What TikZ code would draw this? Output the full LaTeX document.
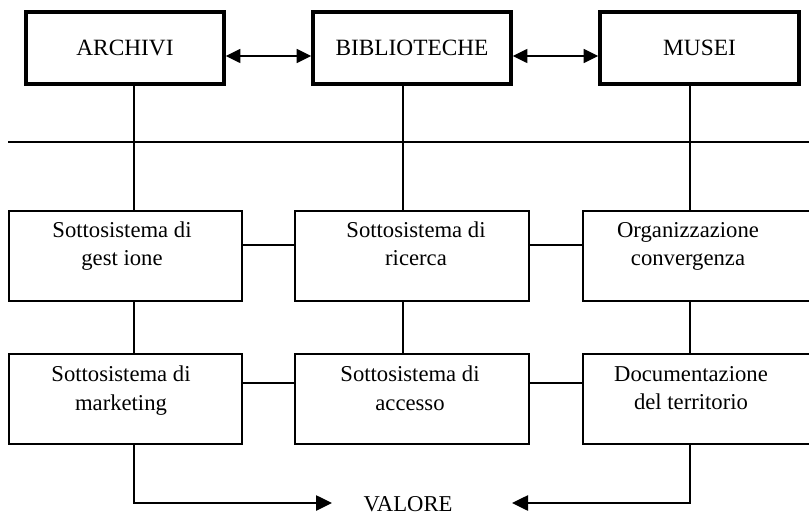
\documentclass[tikz,border=0pt]{standalone}
\usepackage{fontspec}
\setmainfont{Liberation Serif}
\usetikzlibrary{arrows.meta}

\begin{document}
\begin{tikzpicture}[x=0.75pt,y=0.75pt,yscale=-1,xscale=1,
    topbox/.style={draw,line width=2.6pt,minimum width=148.5pt,minimum height=54pt,inner sep=0pt,font=\fontsize{17.5}{21}\selectfont},
    subbox/.style={draw,line width=1.8pt,minimum height=67.5pt,inner sep=0pt},
    subtext/.style={anchor=north,align=center,inner sep=0pt,font=\fontsize{17}{21}\selectfont},
    link/.style={line width=1.1pt},
    dblarrow/.style={line width=1.1pt,{Triangle[length=11pt,width=10.5pt]}-{Triangle[length=11pt,width=10.5pt]}},
    valarrow/.style={line width=1.1pt,-{Triangle[length=12pt,width=11.5pt]}}]
    %set diagram left start at 0, and has height of 517
    \useasboundingbox (0,0) rectangle (809,517);

    %Shape: Rectangle [top row]
    \node[topbox] (archivi) at (125,48) {ARCHIVI};
    \node[topbox] (biblioteche) at (412,48) {BIBLIOTECHE};
    \node[topbox,minimum width=149.25pt] (musei) at (699.5,48) {MUSEI};

    %Shape: Rectangle [middle row]
    \node[subbox,minimum width=174.75pt] (gestione) at (125.5,256) {};
    \node[subbox,minimum width=175.5pt] (ricerca) at (412,256) {};
    \node[subbox,minimum width=171.75pt] (convergenza) at (697.5,256) {};

    %Shape: Rectangle [bottom row]
    \node[subbox,minimum width=174.75pt] (marketing) at (125.5,399) {};
    \node[subbox,minimum width=175.5pt] (accesso) at (412,399) {};
    \node[subbox,minimum width=171.75pt] (territorio) at (697.5,399) {};

    % Text Node
    \node[subtext] (t-gestione) at (122,222) {Sottosistema di\\gest\ ione};
    % Text Node
    \node[subtext] (t-ricerca) at (416,222) {Sottosistema di\\ricerca};
    % Text Node
    \node[subtext] (t-convergenza) at (688,222) {Organizzazione\\convergenza};
    % Text Node
    \node[subtext] (t-marketing) at (121,366) {Sottosistema di\\marketing};
    % Text Node
    \node[subtext] (t-accesso) at (410,366) {Sottosistema di\\accesso};
    % Text Node
    \node[subtext] (t-territorio) at (691,366) {Documentazione\\del territorio};
    % Text Node
    \node[inner sep=0pt,font=\fontsize{17}{21}\selectfont] (valore) at (408,504) {VALORE};

    \coordinate (c1) at (134,142);
    \coordinate (c2) at (403,142);
    \coordinate (c3) at (690,142);
    \coordinate (ya) at (0,56);
    \coordinate (ym) at (0,245);
    \coordinate (yb) at (0,383);
    \coordinate (rl) at (8,142);
    \coordinate (rr) at (809,142);
    \coordinate (vin) at (332,503);
    \coordinate (vout) at (512,503);

    %Straight Lines [horizontal rule]
    \draw[link] (rl) -- (rr);
    %Double arrows
    \draw[dblarrow] (archivi.east |- ya) -- (biblioteche.west |- ya);
    \draw[dblarrow] (biblioteche.east |- ya) -- (musei.west |- ya);

    %Straight Lines [verticals]
    \draw[link] (archivi.south -| c1) -- (gestione.north -| c1);
    \draw[link] (biblioteche.south -| c2) -- (ricerca.north -| c2);
    \draw[link] (musei.south -| c3) -- (convergenza.north -| c3);
    \draw[link] (gestione.south -| c1) -- (marketing.north -| c1);
    \draw[link] (ricerca.south -| c2) -- (accesso.north -| c2);
    \draw[link] (convergenza.south -| c3) -- (territorio.north -| c3);

    %Straight Lines [horizontals]
    \draw[link] (gestione.east |- ym) -- (ricerca.west |- ym);
    \draw[link] (ricerca.east |- ym) -- (convergenza.west |- ym);
    \draw[link] (marketing.east |- yb) -- (accesso.west |- yb);
    \draw[link] (accesso.east |- yb) -- (territorio.west |- yb);

    %Arrows to VALORE
    \draw[valarrow] (marketing.south -| c1) |- (vin);
    \draw[valarrow] (territorio.south -| c3) |- (vout);

\end{tikzpicture}
\end{document}
